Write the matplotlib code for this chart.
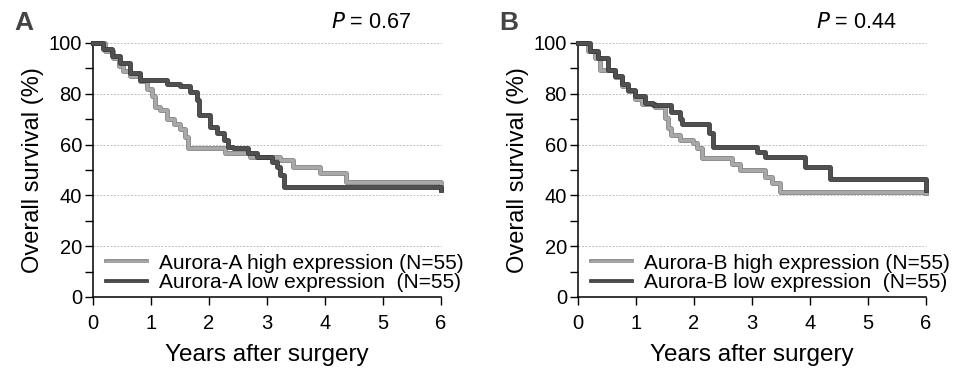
import matplotlib
matplotlib.use("Agg")
import matplotlib.pyplot as plt
import matplotlib.patheffects as pe
from matplotlib.ticker import MultipleLocator
from matplotlib.lines import Line2D

plt.rcParams['font.family'] = ['Liberation Sans', 'DejaVu Sans']

# ---- data ----
a_high_t = [0, 0.21, 0.35, 0.44, 0.52, 0.64, 0.81, 0.93, 1.01, 1.07, 1.16, 1.27, 1.39, 1.5, 1.59, 1.64, 2.28, 2.71, 3.22, 3.45, 3.91, 4.37, 6.0]
a_high_s = [100, 97, 94, 91, 89, 87, 85, 82, 79, 75, 73.5, 70, 68, 66, 63, 58.5, 56.6, 55.3, 54, 51.3, 48.7, 45.4, 43]

a_low_t = [0, 0.18, 0.32, 0.47, 0.64, 0.81, 1.27, 1.5, 1.67, 1.79, 1.82, 2.02, 2.13, 2.25, 2.33, 2.42, 2.68, 2.82, 3.08, 3.17, 3.22, 3.29, 6.0]
a_low_s = [100, 97.5, 95, 92, 88, 85.4, 84, 83, 80.8, 77.6, 71.6, 67, 64.4, 61.8, 59.2, 58.5, 56.6, 55.2, 53.3, 51, 48, 43.4, 42]

b_high_t = [0, 0.18, 0.29, 0.38, 0.64, 0.75, 0.87, 0.98, 1.1, 1.33, 1.5, 1.56, 1.61, 1.76, 1.99, 2.05, 2.13, 2.65, 2.79, 3.22, 3.34, 3.48, 6.0]
b_high_s = [100, 97, 94, 89.4, 86.7, 83, 81, 78, 76, 75, 70.3, 66.4, 63.8, 61.8, 60.5, 58.5, 54.6, 52.5, 50, 47.4, 44.7, 41.5, 41]

b_low_t = [0, 0.2, 0.35, 0.52, 0.64, 0.75, 0.87, 0.98, 1.15, 1.3, 1.61, 1.76, 1.8, 2.25, 2.33, 3.08, 3.22, 3.91, 4.34, 6.0]
b_low_s = [100, 97, 94, 89.4, 87, 84, 81.6, 79, 76.4, 75.6, 73, 70, 68, 64.4, 59.2, 57, 55, 51.3, 46.5, 42]

x_ticks = [0, 1, 2, 3, 4, 5, 6]
y_ticks = [0, 20, 40, 60, 80, 100]

panels = [
    dict(letter='A', p='0.67', gene='Aurora-A', high=(a_high_t, a_high_s), low=(a_low_t, a_low_s),
         rect=[93/956, 72/369, 348/956, 254/369]),
    dict(letter='B', p='0.44', gene='Aurora-B', high=(b_high_t, b_high_s), low=(b_low_t, b_low_s),
         rect=[578/956, 72/369, 348/956, 254/369]),
]

LIGHT = '#a8a8a8'
LIGHT_EDGE = '#7a7a7a'
DARK = '#505050'
DARK_EDGE = '#2e2e2e'

fig = plt.figure(figsize=(9.56, 3.69), dpi=100)

for pnl in panels:
    ax = fig.add_axes(pnl['rect'])
    for y in [20, 40, 60, 80, 100]:
        ax.axhline(y, color='#c0c0c0', lw=0.7, ls=(0, (2, 1.5)), zorder=1, clip_on=False)
    t, s = pnl['high']
    ax.step(t, s, where='post', color=LIGHT, lw=2.4, zorder=3, clip_on=False,
            path_effects=[pe.Stroke(linewidth=3.4, foreground=LIGHT_EDGE), pe.Normal()])
    t, s = pnl['low']
    ax.step(t, s, where='post', color=DARK, lw=2.4, zorder=4, clip_on=False,
            path_effects=[pe.Stroke(linewidth=3.4, foreground=DARK_EDGE), pe.Normal()])
    ax.set_xlim(0, 6)
    ax.set_ylim(0, 100)
    ax.set_xticks(x_ticks)
    ax.set_yticks(y_ticks)
    ax.yaxis.set_minor_locator(MultipleLocator(10))
    ax.tick_params(axis='both', which='major', direction='out', length=6, width=1, labelsize=14.5)
    ax.tick_params(axis='x', which='major', pad=6)
    ax.tick_params(axis='y', which='major', pad=2)
    ax.tick_params(axis='y', which='minor', direction='out', length=6, width=1)
    for sp in ['top', 'right']:
        ax.spines[sp].set_visible(False)
    for sp in ['left', 'bottom']:
        ax.spines[sp].set_linewidth(1.1)
    ax.set_xlabel('Years after surgery', fontsize=17.5, labelpad=8)
    ax.set_ylabel('Overall survival (%)', fontsize=17, labelpad=3)

    handles = [Line2D([], [], color=LIGHT, lw=1.8, path_effects=[pe.Stroke(linewidth=2.6, foreground=LIGHT_EDGE), pe.Normal()]),
               Line2D([], [], color=DARK, lw=1.8, path_effects=[pe.Stroke(linewidth=2.6, foreground=DARK_EDGE), pe.Normal()])]
    labels = [pnl['gene'] + ' high expression (N=55)', pnl['gene'] + ' low expression  (N=55)']
    ax.legend(handles, labels, loc='lower left', bbox_to_anchor=(0.0, -0.03), frameon=False,
              fontsize=15, handlelength=2.0, handletextpad=0.55, labelspacing=0.02, borderaxespad=0.2)

    ax.text(0.80, 1.04, r'$\it{P}$ = ' + pnl['p'], transform=ax.transAxes, ha='center', va='bottom', fontsize=15.5)
    ax.text(-0.225, 1.03, pnl['letter'], transform=ax.transAxes, ha='left', va='bottom',
            fontsize=19, fontweight='bold', color='#444444')

fig.savefig('out.png', dpi=100)
